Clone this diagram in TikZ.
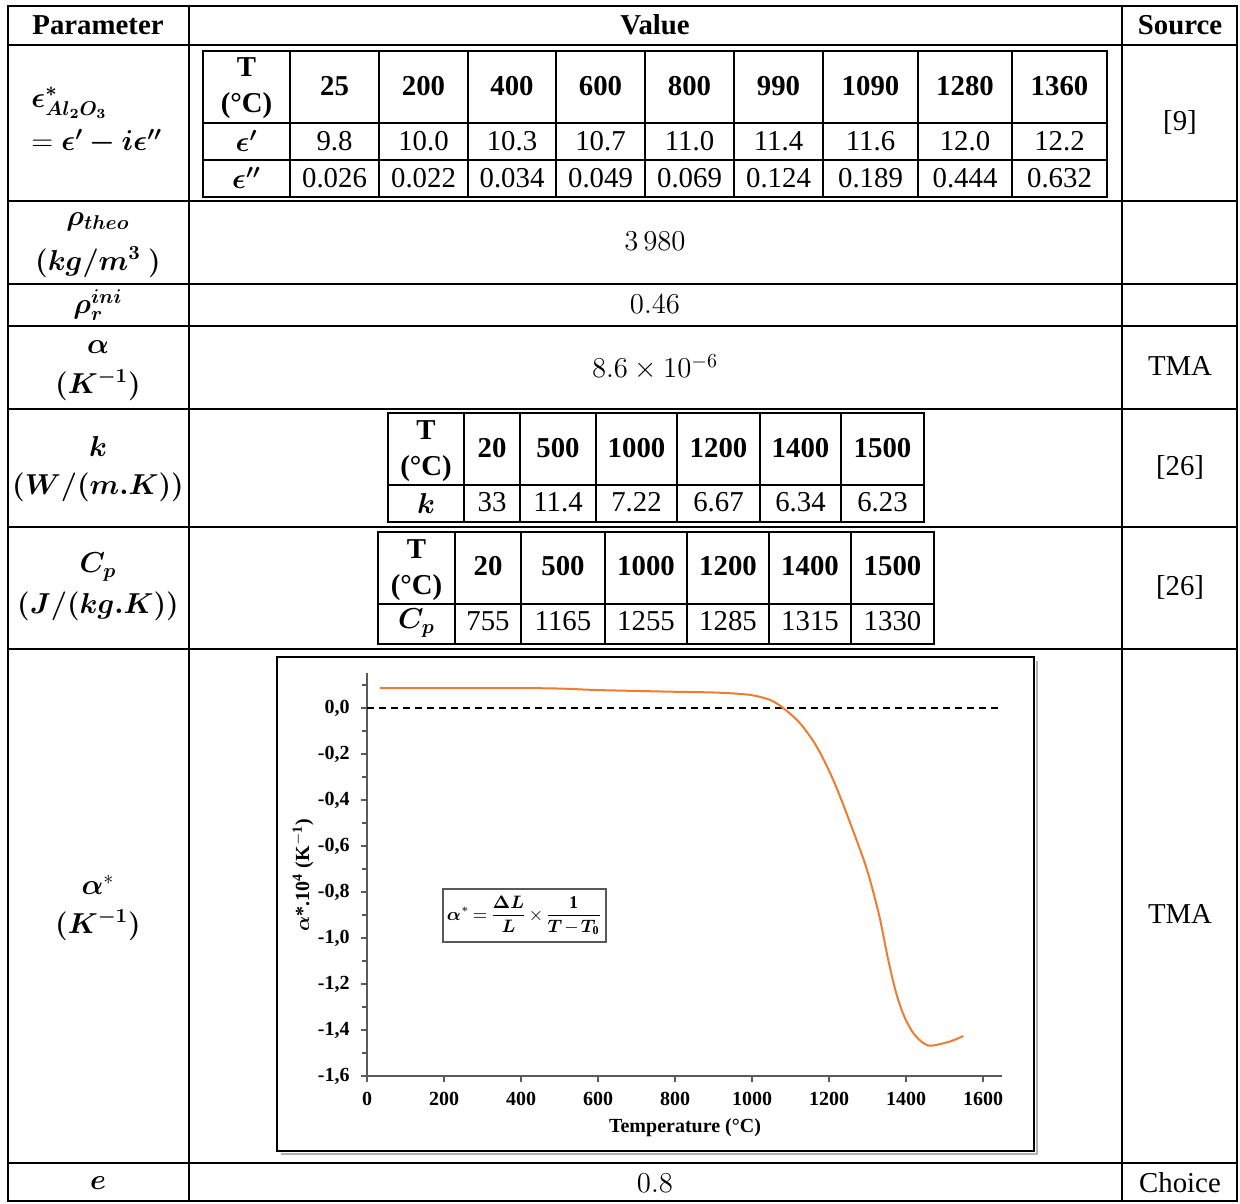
\documentclass[tikz,border=0pt]{standalone}
\usepackage{amsmath,amssymb,bm}
\usepackage{fontspec}
\setmainfont{Liberation Serif}
\usepackage{tikz}
\usetikzlibrary{positioning, calc}

\definecolor{alphaOrange}{HTML}{ED7D31}
\tikzset{
    cell/.style={inner sep=0pt, font=\fontsize{14.4}{18}\selectfont, align=center},
    head/.style={cell, font=\fontsize{14.4}{18}\selectfont\bfseries},
    rule/.style={line width=1pt},
    axis/.style={line width=0.8pt, draw=black!65},
    tick/.style={inner sep=0pt, font=\fontsize{10}{12}\selectfont\bfseries},
    curve/.style={line width=1pt, draw=alphaOrange},
}

\begin{document}
\begin{tikzpicture}[x=0.5pt, y=-0.5pt]
        \useasboundingbox (0,0) rectangle (1240,1203);
        % main table
        \draw[rule] (8,6) rectangle (1237,1201);
        \draw[rule] (189,6) -- (189,1201);
        \draw[rule] (1122,6) -- (1122,1201);
        \foreach \y in {45,201,284,326,409,527,649,1163}
            \draw[rule] (8,\y) -- (1237,\y);
        \node[head] (paramHead) at (98,25) {Parameter};
        \node[head] (valueHead) at (655,25) {Value};
        \node[head] (sourceHead) at (1180,25) {Source};

        % permittivity
        \node[cell, anchor=west] (epsName) at (31,103) {$\bm{\epsilon^{*}_{Al_2O_3}}$};
        \node[cell, anchor=west] (epsDef) at (31,142) {$=\bm{\epsilon'-i\epsilon''}$};
        \draw[rule] (203,51) rectangle (1107,197);
        \draw[rule] (203,123) -- (1107,123);
        \draw[rule] (203,160) -- (1107,160);
        \node[head] (epsT) at (246.5,88.5) {T\\(°C)};
        \node[cell] (epsP) at (246.5,141) {$\bm{\epsilon'}$};
        \node[cell] (epsPP) at (246.5,178) {$\bm{\epsilon''}$};
        \foreach \lx/\rx/\tv/\pv/\qv [count=\i] in {290/379/25/9.8/0.026, 379/468/200/10.0/0.022,
            468/556/400/10.3/0.034, 556/645/600/10.7/0.049, 645/734/800/11.0/0.069,
            734/823/990/11.4/0.124, 823/918/1090/11.6/0.189, 918/1012/1280/12.0/0.444,
            1012/1107/1360/12.2/0.632}{
            \draw[rule] (\lx,51) -- (\lx,197);
            \node[head] (epsT\i) at ({(\lx+\rx)/2},86) {\tv};
            \node[cell] (epsP\i) at ({(\lx+\rx)/2},141) {\pv};
            \node[cell] (epsPP\i) at ({(\lx+\rx)/2},178) {\qv};
        }
        \node[cell] (epsSrc) at (1180,122) {[9]};

        % density
        \node[cell] (rhoName) at (98,222) {$\bm{\rho_{theo}}$};
        \node[cell] (rhoUnit) at (98,262) {$\bm{(kg/m^{3}\ )}$};
        \node[cell] (rhoVal) at (655,241) {$3\,980$};
        \node[cell] (rhoRName) at (98,305) {$\bm{\rho_r^{ini}}$};
        \node[cell] (rhoRVal) at (655,304) {$0.46$};

        % expansion
        \node[cell] (alphaName) at (98,347) {$\bm{\alpha}$};
        \node[cell] (alphaUnit) at (98,385) {$\bm{(K^{-1})}$};
        \node[cell] (alphaVal) at (655,367) {$8.6\times10^{-6}$};
        \node[cell] (alphaSrc) at (1180,366) {TMA};

        % conductivity
        \node[cell] (kName) at (98,446) {$\bm{k}$};
        \node[cell] (kUnit) at (98,487) {$\bm{(W/(m.K))}$};
        \draw[rule] (388,413) rectangle (924,522);
        \draw[rule] (388,485) -- (924,485);
        \node[head] (kT) at (426,451) {T\\(°C)};
        \node[cell] (kRow) at (426,503) {$\bm{k}$};
        \foreach \lx/\rx/\tv/\pv [count=\i] in {464/520/20/33, 520/596/500/11.4, 596/677/1000/7.22,
            677/760/1200/6.67, 760/841/1400/6.34, 841/924/1500/6.23}{
            \draw[rule] (\lx,413) -- (\lx,522);
            \node[head] (kT\i) at ({(\lx+\rx)/2},448) {\tv};
            \node[cell] (kP\i) at ({(\lx+\rx)/2},502) {\pv};
        }
        \node[cell] (kSrc) at (1180,467) {[26]};

        % heat capacity
        \node[cell] (cpName) at (98,567) {$\bm{C_p}$};
        \node[cell] (cpUnit) at (98,606) {$\bm{(J/(kg.K))}$};
        \draw[rule] (378,532) rectangle (934,644);
        \draw[rule] (378,604) -- (934,604);
        \node[head] (cpT) at (416.5,570.5) {T\\(°C)};
        \node[cell] (cpRow) at (416.5,623) {$\bm{C_p}$};
        \foreach \lx/\rx/\tv/\pv [count=\i] in {455/521/20/755, 521/605/500/1165, 605/687/1000/1255,
            687/769/1200/1285, 769/851/1400/1315, 851/934/1500/1330}{
            \draw[rule] (\lx,532) -- (\lx,644);
            \node[head] (cpT\i) at ({(\lx+\rx)/2},566) {\tv};
            \node[cell] (cpP\i) at ({(\lx+\rx)/2},621) {\pv};
        }
        \node[cell] (cpSrc) at (1180,587) {[26]};

        % apparent expansion coefficient
        \node[cell] (alphaStName) at (98,885) {$\bm{\alpha}^{*}$};
        \node[cell] (alphaStUnit) at (98,925) {$\bm{(K^{-1})}$};
        \node[cell] (alphaStSrc) at (1180,914) {TMA};
        \draw[black!30, line width=1pt] (281,1154) -- (1037,1154) -- (1037,661);
        \draw[line width=1pt] (277,657) rectangle (1034,1151);
        \begin{scope}[shift={(367,708)}, x=0.1925pt, y=115pt]
            \draw[axis] (0,0.152) -- (0,-1.6) -- (1650,-1.6);
            \foreach \i/\lab in {0/{0,0}, 1/{-0,2}, 2/{-0,4}, 3/{-0,6}, 4/{-0,8},
                5/{-1,0}, 6/{-1,2}, 7/{-1,4}, 8/{-1,6}}{
                \draw[axis] (0,{-0.2*\i}) -- ++(-3pt,0);
                \draw[axis] (0,{0.1-0.2*\i}) -- ++(-2.5pt,0);
                \node[tick, anchor=east, xshift=-8.5pt] (yLab\i) at (0,{-0.2*\i}) {\lab};
            }
            \foreach \T [count=\i] in {0,200,...,1600}{
                \draw[axis] (\T,-1.6) -- ++(0,-3pt);
                \node[tick, anchor=north, yshift=-8pt] (xLab\i) at (\T,-1.6) {\T};
            }
            \draw[line width=0.6pt, dash pattern=on 3.5pt off 2.5pt] (0,0) -- (1640,0);
            \draw[curve] plot[smooth] coordinates {(34,0.086) (449,0.086) (600,0.078)
                (787,0.071) (908,0.067) (995,0.057) (1047,0.035) (1081,0) (1125,-0.067)
                (1168,-0.168) (1211,-0.313) (1255,-0.50) (1298,-0.70) (1330,-0.90)
                (1352,-1.081) (1370,-1.212) (1385,-1.296) (1400,-1.358) (1420,-1.416)
                (1445,-1.457) (1467,-1.468) (1514,-1.45) (1549,-1.426)};
        \end{scope}
        \node[tick] (xTitle) at (685,1128) {Temperature (°C)};
        \node[tick, rotate=90] (yTitle) at (303,875) {$\bm{\alpha}$*.10$^{\mathbf{4}}$ (K$^{\mathbf{-1}}$)};
        \node[draw=black!65, line width=0.8pt, minimum width=81.5pt, minimum height=26.5pt,
            inner sep=0pt, font=\fontsize{9}{11}\selectfont] (alphaFormula) at (524.5,915.5)
            {\medmuskip=2mu\thickmuskip=3mu$\bm{\alpha}^{*}=\dfrac{\bm{\Delta L}}{\bm{L}}\times\dfrac{\mathbf{1}}{\bm{T}-\bm{T}_{\mathbf{0}}}$};

        % emissivity
        \node[cell] (emisName) at (98,1183) {$\bm{e}$};
        \node[cell] (emisVal) at (655,1183) {$0.8$};
        \node[cell] (emisSrc) at (1180,1183) {Choice};
\end{tikzpicture}
\end{document}
